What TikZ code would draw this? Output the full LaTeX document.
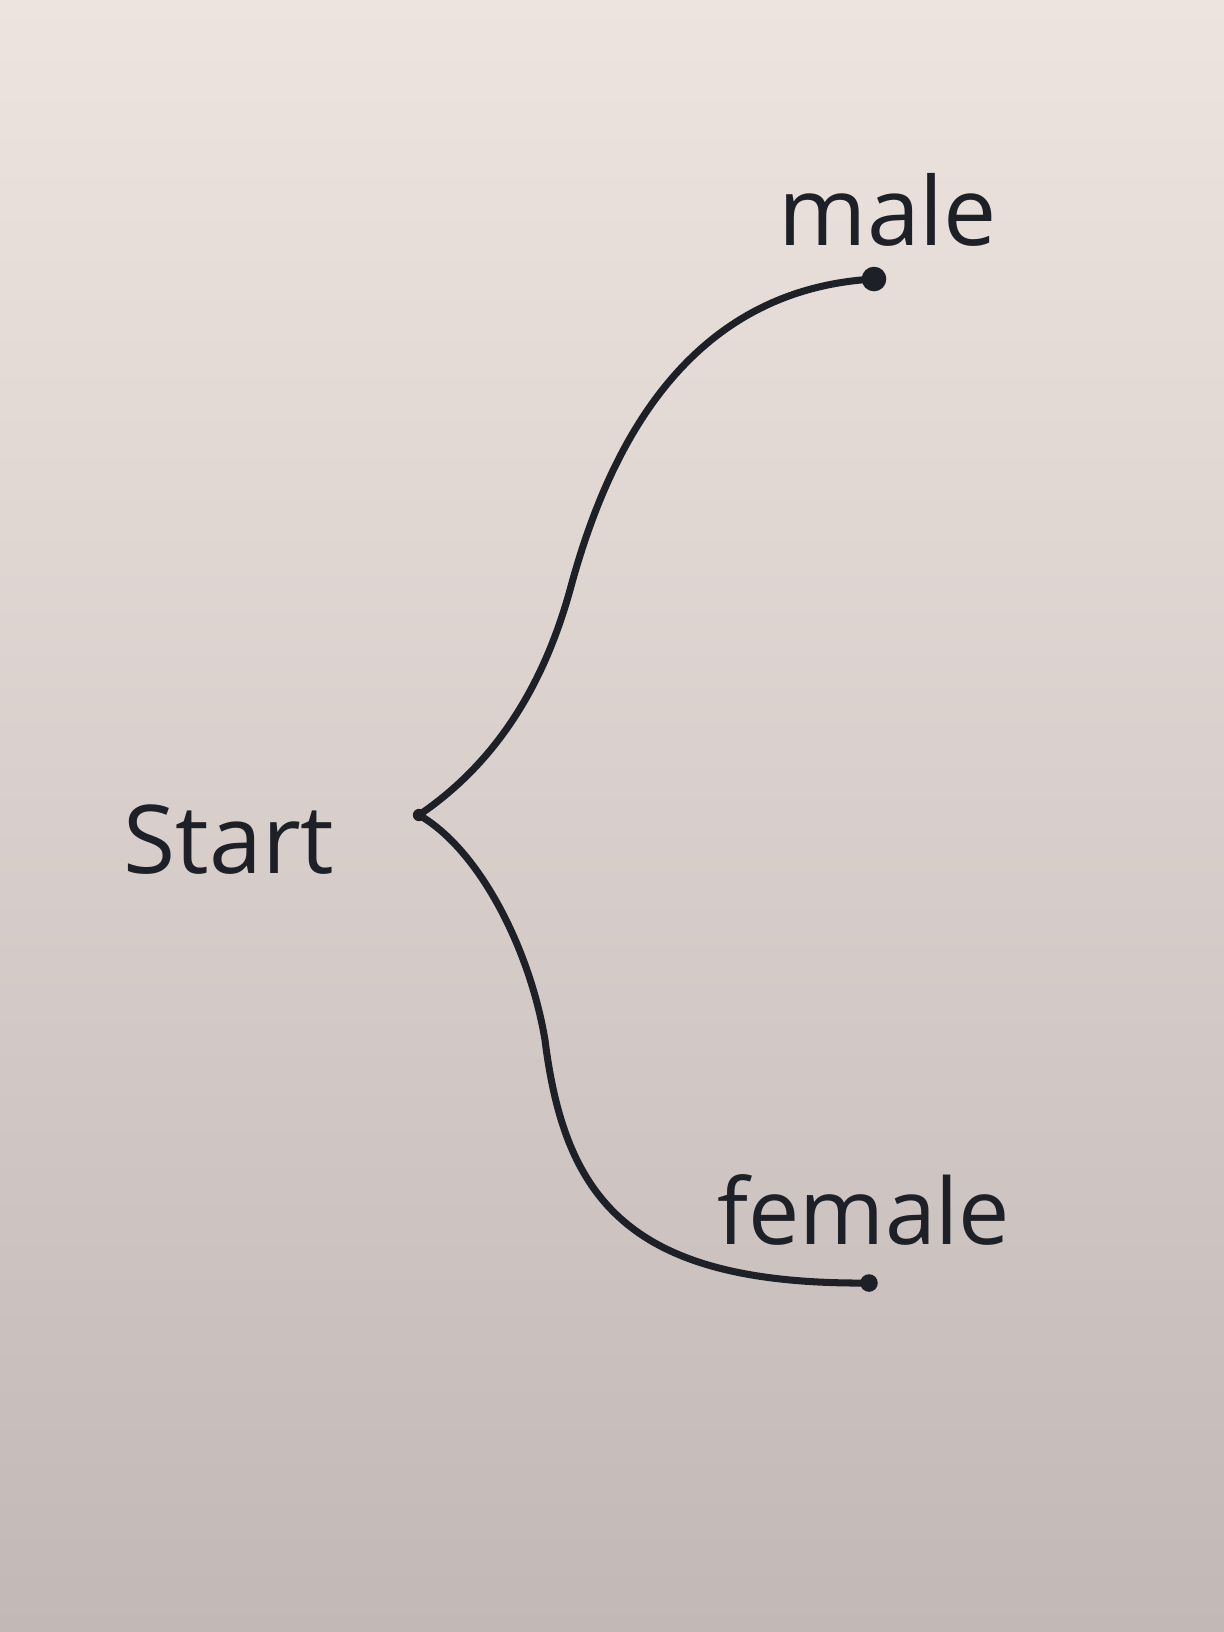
\documentclass[tikz,border=0pt]{standalone}
\usepackage{fontspec}
\setmainfont{Open Sans}
\usetikzlibrary{positioning}

\definecolor{boardtop}{RGB}{238,228,223}
\definecolor{boardmid}{RGB}{214,209,204}
\definecolor{boardlow}{RGB}{194,184,182}
\definecolor{marker}{RGB}{30,32,40}

\begin{document}
\begin{tikzpicture}[%
        x = 0.01cm,
        y = -0.01cm,
        line width = 2pt,
        line cap = round,
        dot/.style = {circle, fill = marker, inner sep = 0pt},
        word/.style = {text = marker, font = \fontsize{27}{33}\selectfont}
    ]

        % The board.
        \shade[top color = boardtop, middle color = boardmid, bottom color = boardlow]
            (0, 0) rectangle (1224, 1632);
        \useasboundingbox (0, 0) rectangle (1224, 1632);

        % End points.
        \node[dot, minimum size = 3.5pt] (start) at (419, 815) {};
        \node[dot, minimum size = 7pt] (maledot) at (874, 279) {};
        \node[dot, minimum size = 5pt] (femaledot) at (869, 1283) {};

        % Labels.
        \node[word] (startlabel) at (229, 840) {Start};
        \node[word] (malelabel) at (888, 210) {male};
        \node[word, font = \fontsize{26}{32}\selectfont] (femalelabel) at (864, 1210) {female};

        % The two branches.
        \begin{scope}[draw = marker]
            \draw (start.center) .. controls (500, 760) and (545, 680) .. (570, 590)
                .. controls (605, 460) and (680, 290) .. (maledot.center);
            \draw (start.center) .. controls (480, 850) and (530, 950) .. (545, 1040)
                .. controls (565, 1200) and (630, 1285) .. (femaledot.center);
        \end{scope}
    \end{tikzpicture}
\end{document}
